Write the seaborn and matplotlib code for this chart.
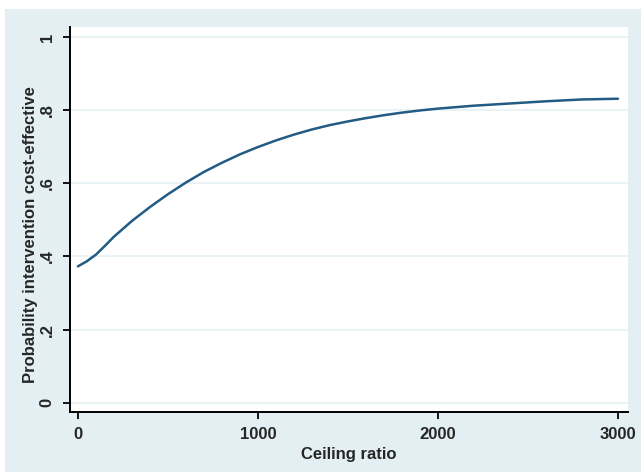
import numpy as np
import pandas as pd
import seaborn as sns
import matplotlib.pyplot as plt
from matplotlib.patches import Rectangle

# ceiling ratio vs probability intervention is cost-effective
ceiling = [0, 50, 100, 150, 200, 300, 400, 500, 600, 700, 800, 900, 1000,
           1100, 1200, 1300, 1400, 1500, 1600, 1700, 1800, 1900, 2000,
           2200, 2400, 2600, 2800, 3000]
prob_ce = [0.373, 0.387, 0.405, 0.429, 0.454, 0.497, 0.535, 0.570, 0.602, 0.631, 0.656, 0.679, 0.699,
           0.717, 0.733, 0.747, 0.759, 0.769, 0.778, 0.786, 0.793, 0.799, 0.804,
           0.812, 0.818, 0.824, 0.829, 0.831]

y_ticks = [0, 0.2, 0.4, 0.6, 0.8, 1]
y_labels = ['0', '.2', '.4', '.6', '.8', '1']
x_ticks = [0, 1000, 2000, 3000]

df = pd.DataFrame({'ceiling': ceiling, 'prob': prob_ce})

sns.set_style('white')
plt.rcParams['font.family'] = ['Liberation Sans', 'DejaVu Sans']
plt.rcParams['font.weight'] = 'bold'

bg = '#e3eff3'
fig = plt.figure(figsize=(6.41, 4.72), dpi=100, facecolor='white')
# stata-ish outer background with a thin white margin on top / left
fig.patches.append(Rectangle((5 / 641, 0), 1, 1 - 9 / 472, transform=fig.transFigure,
                             facecolor=bg, edgecolor='none', zorder=-10))
ax = fig.add_axes([70 / 641, 60 / 472, 558 / 641, 385 / 472])
ax.set_facecolor('white')

for t in y_ticks:
    ax.axhline(t, color='#e6f1f5', lw=1.2, zorder=0)

sns.lineplot(data=df, x='ceiling', y='prob', ax=ax, color='#225b84', lw=1.8)

ax.set_xlim(-44, 3056)
ax.set_ylim(-0.025, 1.027)
ax.set_xticks(x_ticks)
ax.set_xticklabels([str(v) for v in x_ticks], fontsize=12, fontweight='bold')
ax.set_yticks(y_ticks)
ax.set_yticklabels(y_labels, fontsize=12, fontweight='bold', rotation=90, va='center')
ax.tick_params(axis='both', direction='out', length=5, width=1.3, color='black',
               left=True, bottom=True, pad=6)

ax.set_xlabel('Ceiling ratio', fontsize=12, fontweight='bold')
ax.set_ylabel('Probability intervention cost-effective', fontsize=12, fontweight='bold')
ax.xaxis.set_label_coords(0.5, -0.09)
ax.yaxis.set_label_coords(-0.058, 0.46)

sns.despine(ax=ax, top=True, right=True)
for s in ['left', 'bottom']:
    ax.spines[s].set_color('black')
    ax.spines[s].set_linewidth(1.4)

fig.savefig('out.png', dpi=100, facecolor=fig.get_facecolor())
